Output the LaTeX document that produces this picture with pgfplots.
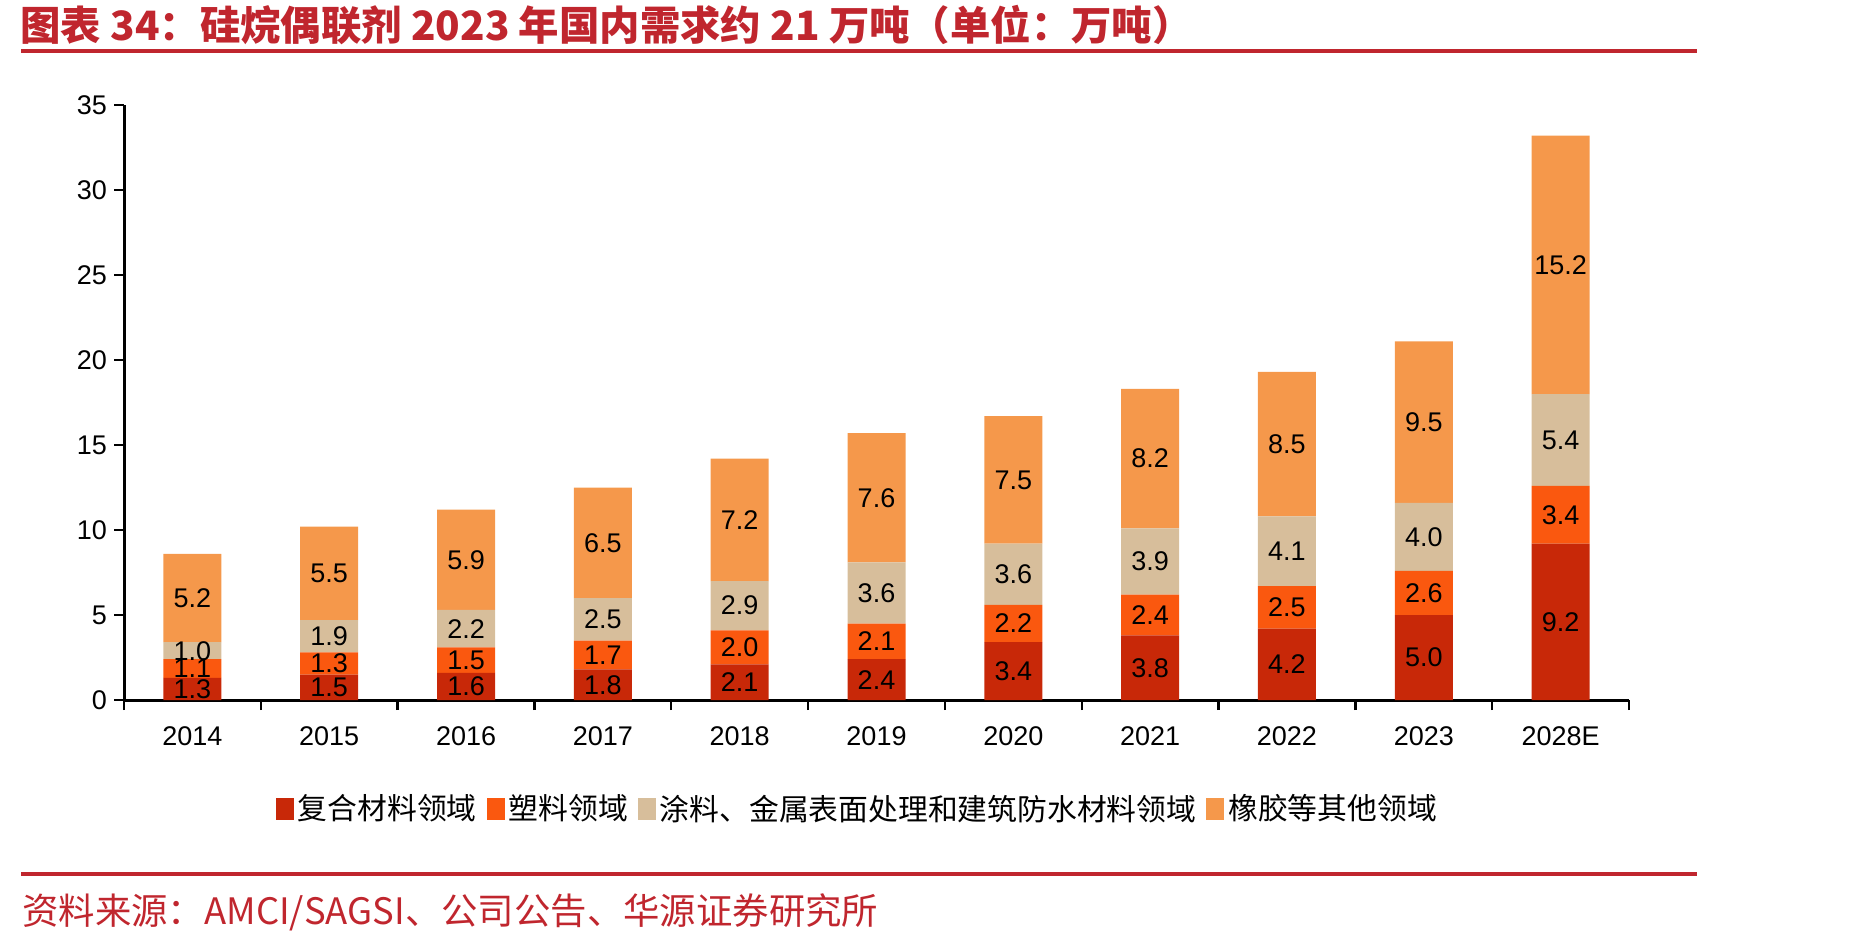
\documentclass[border=0pt]{standalone}
\usepackage{pgfplots}
\pgfplotsset{compat=1.18}
\usepackage{pgfplotstable}
\usepackage{fontspec}
\setmainfont{Liberation Sans}
\newfontfamily\cjk{Noto Sans CJK SC}

\definecolor{composite}{RGB}{200,40,8}
\definecolor{plastic}{RGB}{250,88,15}
\definecolor{coating}{RGB}{215,190,155}
\definecolor{rubber}{RGB}{245,152,75}
\definecolor{hyred}{RGB}{192,38,46}

% 硅烷偶联剂国内需求（万吨）：复合材料、塑料、涂料等、橡胶等
\pgfplotstableread{
x a b c d
0  1.3 1.1 1.0 5.2
1  1.5 1.3 1.9 5.5
2  1.6 1.5 2.2 5.9
3  1.8 1.7 2.5 6.5
4  2.1 2.0 2.9 7.2
5  2.4 2.1 3.6 7.6
6  3.4 2.2 3.6 7.5
7  3.8 2.4 3.9 8.2
8  4.2 2.5 4.1 8.5
9  5.0 2.6 4.0 9.5
10 9.2 3.4 5.4 15.2
}\demand

\begin{document}
\begin{tikzpicture}
\path[use as bounding box] (0,0) rectangle (926bp,-473bp);

% header
\node[anchor=west, text=hyred, inner sep=0pt,
      font=\cjk\bfseries\fontsize{20.2bp}{22bp}\selectfont]
  at (10bp,-12.5bp) {图表 34：硅烷偶联剂 2023 年国内需求约 21 万吨（单位：万吨）};
\draw[hyred, line width=2bp] (10.5bp,-25.5bp) -- (848.5bp,-25.5bp);

\begin{axis}[
  at={(62bp,-350bp)}, anchor=south west,
  scale only axis, width=752.5bp, height=297.5bp,
  xmin=-0.5, xmax=10.5, ymin=0, ymax=35,
  ybar stacked, bar width=29bp,
  legend image code/.code={\fill[#1,draw=none] (0bp,-5.5bp) rectangle (9bp,5.5bp);},
  axis lines*=left,
  axis line style={line width=1.5bp, black},
  ytick={0,5,...,35},
  xtick={0,...,10},
  xticklabels={2014,2015,2016,2017,2018,2019,2020,2021,2022,2023,2028E},
  minor xtick={-0.5,0.5,...,10.5},
  major x tick style={draw=none},
  tick align=outside,
  major tick length=5bp, minor tick length=5bp,
  every tick/.style={line width=1.2bp, black},
  /pgf/number format/assume math mode=true,
  ticklabel style={font=\fontsize{13.5bp}{16bp}\selectfont},
  xticklabel style={yshift=-5bp},
  point meta=explicit,
  nodes near coords={\pgfmathprintnumber[fixed,fixed zerofill,precision=1]{\pgfplotspointmeta}},
  every node near coord/.append style={anchor=center, text=black,
     font=\fontsize{13.5bp}{16bp}\selectfont},
  legend style={at={(0.488,-0.183)}, anchor=center, draw=none, fill=none,
     legend columns=-1, inner sep=0pt,
     font=\cjk\fontsize{14.9bp}{16bp}\selectfont,
     /tikz/every even column/.append style={column sep=3bp}},
]
\addplot[fill=composite, draw=none] table[x=x, y=a, meta=a] {\demand};
\addplot[fill=plastic,   draw=none] table[x=x, y=b, meta=b] {\demand};
\addplot[fill=coating,   draw=none] table[x=x, y=c, meta=c] {\demand};
\addplot[fill=rubber,    draw=none] table[x=x, y=d, meta=d] {\demand};
\legend{复合材料领域, 塑料领域, 涂料、金属表面处理和建筑防水材料领域, 橡胶等其他领域}
\end{axis}

% footer
\draw[hyred, line width=2bp] (10.5bp,-437bp) -- (848.5bp,-437bp);
\node[anchor=west, text=hyred, inner sep=0pt,
      font=\cjk\fontsize{18.2bp}{20bp}\selectfont]
  at (11bp,-456bp) {资料来源：AMCI/SAGSI、公司公告、华源证券研究所};
\end{tikzpicture}
\end{document}
